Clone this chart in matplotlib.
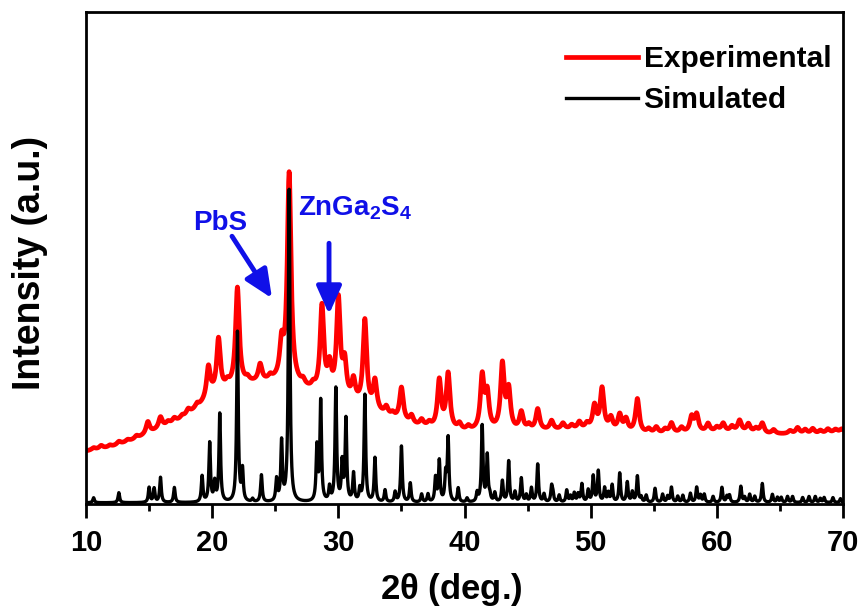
import numpy as np
import matplotlib.pyplot as plt

plt.rcParams['font.family'] = ['Liberation Sans', 'DejaVu Sans']
plt.rcParams['font.weight'] = 'bold'

# broad amorphous hump under the measured pattern (2theta, intensity)
bg_pos = [10, 12, 14, 16, 17.5, 19, 20, 21, 22, 23, 24, 25, 26, 27, 28, 29, 30,
          31, 32, 33, 34, 35, 36, 37, 38, 40, 42, 44, 46, 48, 50, 52, 54, 56,
          58, 60, 62, 64, 66, 68, 70]
bg_val = [53, 57, 65, 76, 84, 97, 108, 113, 118, 120, 121, 122, 122, 116, 111,
          108, 105, 100, 95, 91, 86, 82, 78, 76, 74, 72, 72, 72, 73, 74, 74, 72,
          70, 70, 71, 72, 72, 70, 70, 70, 72]

# measured reflections
exp_pos = [10.6, 11.2, 11.9, 12.6, 13.3, 14.0, 14.9, 15.9, 16.5, 17.0, 17.6,
           18.1, 18.8, 19.7, 20.5, 21.2, 22.0, 22.8, 23.8, 24.6, 25.5, 26.1,
           27.2, 28.0, 28.7, 29.3, 30.0, 30.5, 31.2, 32.1, 32.9, 33.8, 34.3,
           35.0, 35.8, 36.6, 37.2, 38.0, 38.7, 39.6, 40.3, 41.4, 41.8, 43.0,
           43.5, 44.5, 45.1, 45.8, 46.9, 47.8, 48.5, 49.1, 49.7, 50.3, 50.9,
           51.6, 52.3, 52.8, 53.7, 54.6, 55.2, 55.9, 56.4, 57.2, 58.0, 58.4,
           59.3, 60.0, 60.5, 61.2, 61.8, 62.5, 63.1, 63.6, 64.5, 65.8, 66.4,
           67.0, 67.6, 68.2, 68.8, 69.4, 69.9]
exp_int = [2, 3, 2, 3, 2, 3, 12, 11, 3, 4, 3,
           5, 4, 31, 53, 5, 97, 4, 17, 4, 34, 207,
           5, 5, 86, 26, 96, 34, 21, 87, 29, 8, 4,
           33, 8, 6, 4, 48, 55, 6, 4, 53, 35, 65,
           39, 18, 5, 21, 9, 6, 4, 7, 5, 23, 41,
           12, 16, 12, 34, 4, 6, 4, 10, 5, 15, 17,
           8, 4, 8, 5, 11, 8, 4, 10, 4, 3, 6,
           4, 5, 3, 4, 3, 3]

# simulated reflections
sim_pos = [10.6, 12.6, 15.0, 15.4, 15.9, 17.0, 19.2, 19.8, 20.2, 20.6, 22.0, 22.4,
           23.2, 23.9, 25.1, 25.5, 26.1, 28.3, 28.6, 29.3, 29.8, 30.3, 30.6,
           31.2, 31.7, 32.1, 32.9, 33.7, 34.5, 35.0, 35.7, 36.6, 37.1, 37.7,
           38.0, 38.5, 38.7, 39.5, 40.2, 41.0, 41.4, 41.8, 42.4, 43.0, 43.5,
           44.0, 44.5, 45.3, 45.8, 46.3, 46.9, 47.5, 48.1, 48.7, 49.3, 49.8,
           50.2, 50.6, 51.1, 51.7, 52.3, 52.9, 53.3, 53.7, 54.4, 55.1, 55.7,
           56.4, 56.9, 57.3, 57.9, 58.4, 59.0, 59.7, 60.4, 61.0, 61.9, 62.6,
           63.0, 63.6, 64.4, 65.1, 66.0, 66.8, 67.3, 67.8, 68.5, 69.2, 69.8,
           42.0, 44.9, 47.0, 48.4, 49.0, 51.4, 54.0, 56.1, 58.7, 60.8, 62.2,
           64.8, 65.6, 68.2]
sim_int = [5, 10, 15, 14, 25, 15, 26, 59, 19, 88, 170, 31,
           3, 27, 22, 59, 312, 54, 100, 14, 113, 38, 82,
           28, 12, 107, 44, 12, 10, 56, 19, 8, 8, 24,
           41, 26, 63, 14, 4, 9, 76, 46, 9, 21, 41,
           10, 24, 14, 38, 8, 15, 7, 12, 9, 18, 12,
           26, 31, 14, 17, 29, 20, 10, 26, 7, 14, 8,
           15, 6, 7, 9, 15, 8, 6, 15, 7, 16, 8,
           6, 19, 8, 5, 6, 5, 6, 6, 5, 5, 4,
           6, 7, 8, 6, 8, 9, 5, 6, 7, 6, 5,
           5, 6, 4]

tt = np.arange(10, 70.001, 0.01)


def pattern(pos, amp, fwhm):
    y = np.zeros_like(tt)
    g = fwhm / 2
    for p, a in zip(pos, amp):
        y += a * g**2 / ((tt - p)**2 + g**2)
    return y


exp_y = np.interp(tt, bg_pos, bg_val) + pattern(exp_pos, exp_int, 0.35)
sim_y = 1.5 + pattern(sim_pos, sim_int, 0.15)

fig, ax = plt.subplots(figsize=(8.62, 6.12), dpi=100)
fig.subplots_adjust(left=0.0998, right=0.978, bottom=0.176, top=0.980)

ax.plot(tt, exp_y, color='#ff0000', lw=3.4, label='Experimental')
ax.plot(tt, sim_y, color='black', lw=2.4, label='Simulated')

ax.set_xlim(10, 70)
ax.set_ylim(0, 492)
ax.set_xticks([10, 20, 30, 40, 50, 60, 70])
ax.set_xticks([15, 25, 35, 45, 55, 65], minor=True)
ax.set_yticks([])
ax.tick_params(axis='x', which='major', length=10, width=2, labelsize=21, pad=8)
ax.tick_params(axis='x', which='minor', length=5, width=2)
for s in ax.spines.values():
    s.set_linewidth(2)

ax.set_xlabel(r'2$\mathregular{\theta}$ (deg.)', fontsize=25, fontweight='bold')
ax.xaxis.set_label_coords(0.483, -0.135)
ax.set_ylabel('Intensity (a.u.)', fontsize=27, fontweight='bold')
ax.yaxis.set_label_coords(-0.05, 0.49)

ax.legend(loc='upper right', bbox_to_anchor=(1.012, 0.975), frameon=False,
          fontsize=21.5, handlelength=2.4, handletextpad=0.2, labelspacing=0.42,
          borderaxespad=0.3)

blue = '#1010e8'
ax.text(20.6, 281, 'PbS', color=blue, fontsize=20, fontweight='bold',
        ha='center', va='center')
ax.text(31.3, 296, r'ZnGa$\mathregular{_2}$S$\mathregular{_4}$', color=blue,
        fontsize=20, fontweight='bold', ha='center', va='center')
arrow = dict(arrowstyle='-|>,head_length=0.85,head_width=0.38', color=blue,
             lw=3.5, mutation_scale=20, shrinkA=0, shrinkB=0)
ax.annotate('', xy=(24.74, 206), xytext=(21.57, 268), arrowprops=arrow)
ax.annotate('', xy=(29.26, 190), xytext=(29.26, 261), arrowprops=arrow)

fig.savefig('out.png', dpi=100)
